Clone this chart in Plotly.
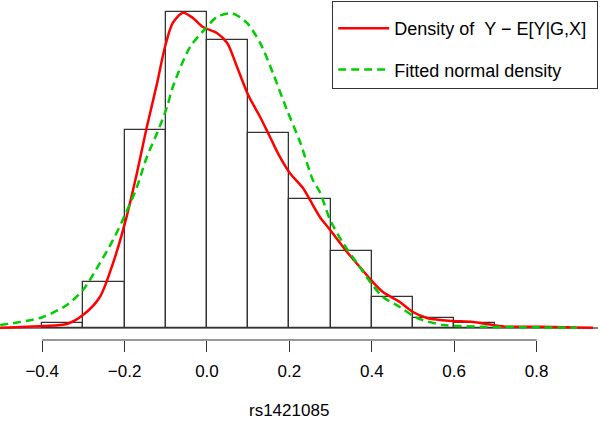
import plotly.graph_objects as go

# Histogram (density scale), bins of width 0.1
bin_edges = [-0.4, -0.3, -0.2, -0.1, 0.0, 0.1, 0.2, 0.3, 0.4, 0.5, 0.6, 0.7]
bin_density = [0.039, 0.354, 1.525, 2.431, 2.215, 1.502, 0.993, 0.593, 0.239, 0.077, 0.041]

# Kernel density of residuals
kde_x = [-0.502, -0.398, -0.340, -0.301, -0.260, -0.228, -0.199, -0.170, -0.146, -0.138,
         -0.121, -0.102, -0.083, -0.058, -0.034, -0.010, 0.024, 0.049, 0.073, 0.100,
         0.129, 0.153, 0.177, 0.201, 0.233, 0.250, 0.274, 0.299, 0.340, 0.371,
         0.398, 0.427, 0.468, 0.500, 0.534, 0.566, 0.597, 0.646, 0.694, 0.728,
         0.808, 0.937]
kde_y = [0.002, 0.015, 0.031, 0.100, 0.239, 0.500, 0.809, 1.194, 1.548, 1.656,
         1.887, 2.164, 2.349, 2.428, 2.387, 2.318, 2.272, 2.195, 2.010, 1.794,
         1.625, 1.471, 1.317, 1.194, 1.078, 0.986, 0.855, 0.755, 0.585, 0.470,
         0.370, 0.277, 0.200, 0.123, 0.077, 0.062, 0.054, 0.046, 0.023, 0.010,
         0.010, 0.002]

# Fitted normal density
norm_x = [-0.502, -0.454, -0.398, -0.340, -0.301, -0.260, -0.228, -0.199, -0.170, -0.146,
          -0.121, -0.097, -0.083, -0.041, 0.000, 0.024, 0.061, 0.097, 0.129, 0.160,
          0.194, 0.226, 0.257, 0.274, 0.299, 0.330, 0.364, 0.398, 0.427, 0.468,
          0.510, 0.573, 0.614, 0.663, 0.808, 0.898]
norm_y = [0.023, 0.046, 0.085, 0.177, 0.293, 0.500, 0.678, 0.870, 1.086, 1.317,
          1.502, 1.702, 1.856, 2.164, 2.318, 2.395, 2.423, 2.349, 2.195, 1.964,
          1.679, 1.432, 1.140, 1.047, 0.832, 0.655, 0.500, 0.347, 0.239, 0.162,
          0.077, 0.023, 0.015, 0.010, 0.005, 0.002]

tick_vals = [-0.4, -0.2, 0.0, 0.2, 0.4, 0.6, 0.8]
tick_text = ["\u22120.4", "\u22120.2", "0.0", "0.2", "0.4", "0.6", "0.8"]

x_title = "rs1421085"
label_kde = "Density of\u00a0\u00a0Y \u2212 E[Y|G,X]\u00a0"
label_norm = "Fitted normal density"

bin_centers = [(a + b) / 2 for a, b in zip(bin_edges[:-1], bin_edges[1:])]
bin_widths = [b - a for a, b in zip(bin_edges[:-1], bin_edges[1:])]

fig = go.Figure()
fig.add_trace(go.Bar(x=bin_centers, y=bin_density, width=bin_widths,
                     marker=dict(color="white", line=dict(color="#333333", width=1.3)),
                     showlegend=False, hoverinfo="skip"))
fig.add_trace(go.Scatter(x=kde_x, y=kde_y, mode="lines", name=label_kde,
                         line=dict(color="#FF0000", width=2.5, shape="spline", smoothing=0.8),
                         legendgroup="a"))
fig.add_trace(go.Scatter(x=norm_x, y=norm_y, mode="lines", name=label_norm,
                         line=dict(color="#00CD00", width=2.5, dash="8px,5px", shape="spline", smoothing=0.8),
                         legendgroup="b"))

# baseline at density 0
fig.add_shape(type="line", xref="paper", x0=0, x1=1, yref="y", y0=0, y1=0,
              line=dict(color="#555555", width=1.3), layer="below")
# R-style axis line spanning first to last tick
fig.add_shape(type="line", xref="x", x0=tick_vals[0], x1=tick_vals[-1], yref="paper", y0=0, y1=0,
              line=dict(color="#333333", width=1.2))

# x-axis title (R places it centred in the full plot region)
fig.add_annotation(text=x_title, xref="paper", yref="paper", x=0.484, y=-0.2088,
                   xanchor="center", yanchor="middle", showarrow=False, borderpad=0,
                   font=dict(size=17, color="black"))

fig.update_layout(
    width=600, height=423,
    margin=dict(l=0, r=2, t=0, b=83, autoexpand=False),
    paper_bgcolor="white", plot_bgcolor="white",
    font=dict(family="Liberation Sans, Arial, sans-serif", size=17, color="black"),
    bargap=0,
    xaxis=dict(range=[-0.5024, 0.9491], tickvals=tick_vals, ticktext=tick_text,
               ticks="outside", ticklen=11, tickwidth=1.2, tickcolor="#333333",
               showline=False, showgrid=False, zeroline=False, automargin=False,
               ticklabelstandoff=5),
    yaxis=dict(range=[-0.0924, 2.5256], visible=False, showgrid=False, zeroline=False),
    legend=dict(x=1, y=0.997, xanchor="right", yanchor="top",
                bordercolor="#333333", borderwidth=1.2, bgcolor="white",
                font=dict(size=18), itemwidth=51, tracegroupgap=15,
                title=dict(text="\u00a0", font=dict(size=6)),
                traceorder="grouped"),
)

fig.write_html("out.html", config={"displayModeBar": False},
               post_script="document.body.style.margin='0';document.body.style.overflow='hidden';")
